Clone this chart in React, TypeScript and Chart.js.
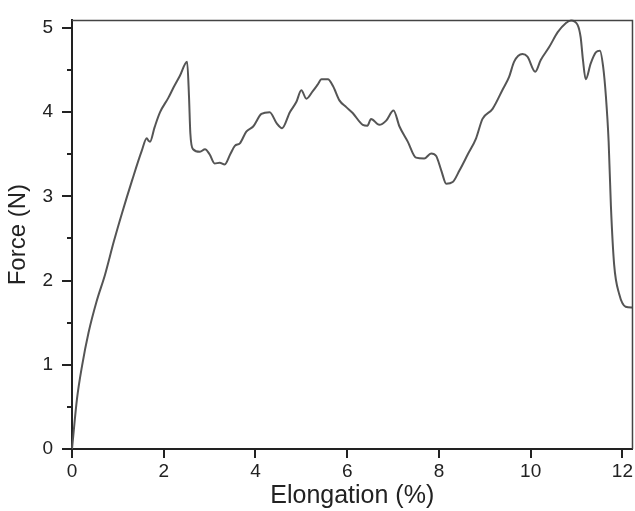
import React, { useEffect, useRef } from 'react';
import { Chart, registerables } from 'chart.js';

Chart.register(...registerables);

const elongation = [
  0, 0.11, 0.22, 0.36, 0.54, 0.72, 0.91, 1.09, 1.31, 1.52, 1.63, 1.67, 1.7, 1.8, 1.92, 2.1, 2.21, 2.35, 2.51,
  2.55, 2.58, 2.64, 2.79, 2.9, 3.0, 3.11, 3.22, 3.33, 3.45, 3.55, 3.66, 3.8, 3.95, 4.13, 4.31, 4.46, 4.58,
  4.75, 4.89, 5.0, 5.11, 5.25, 5.36, 5.44, 5.58, 5.69, 5.83, 5.98, 6.12, 6.34, 6.44, 6.52, 6.7, 6.85, 7.01,
  7.14, 7.32, 7.5, 7.68, 7.83, 7.94, 8.05, 8.16, 8.3, 8.45, 8.63, 8.81, 8.95, 9.17, 9.39, 9.53, 9.64, 9.82,
  9.93, 10.1, 10.22, 10.4, 10.59, 10.77, 10.88, 11.02, 11.09, 11.14, 11.2, 11.31, 11.42, 11.51, 11.58, 11.64,
  11.7, 11.75, 11.82, 11.93, 12.07, 12.22,
];
const force = [
  0, 0.6, 0.99, 1.38, 1.76, 2.07, 2.46, 2.8, 3.19, 3.54, 3.69, 3.66, 3.65, 3.82, 4.0, 4.17, 4.29, 4.43, 4.6,
  4.2, 3.75, 3.56, 3.53, 3.56, 3.5, 3.39, 3.4, 3.38, 3.5, 3.6, 3.63, 3.77, 3.83, 3.98, 4.0, 3.87, 3.81,
  4.0, 4.12, 4.26, 4.16, 4.25, 4.33, 4.39, 4.39, 4.31, 4.14, 4.06, 3.99, 3.85, 3.84, 3.92, 3.85, 3.9, 4.02,
  3.83, 3.65, 3.46, 3.45, 3.51, 3.48, 3.31, 3.15, 3.17, 3.31, 3.5, 3.69, 3.92, 4.04, 4.27, 4.42, 4.6, 4.69,
  4.66, 4.48, 4.62, 4.77, 4.95, 5.06, 5.09, 5.04, 4.89, 4.62, 4.39, 4.58, 4.71, 4.73, 4.54, 4.19,
  3.65, 2.88, 2.19, 1.84, 1.69, 1.68,
];

const xTicks = [0, 2, 4, 6, 8, 10, 12];
const yMajorTicks = [0, 1, 2, 3, 4, 5];
const yMinorTicks = [0.5, 1.5, 2.5, 3.5, 4.5];
const xTitle = 'Elongation (%)';
const yTitle = 'Force (N)';
const xMax = 12.22;
const yMax = 5.09;

const FONT = "'Liberation Sans', Arial, sans-serif";

export default function App() {
  const ref = useRef<HTMLCanvasElement>(null);

  useEffect(() => {
    if (!ref.current) return;
    const axisPlugin = {
      id: 'axisTicks',
      afterDraw(chart: any) {
        const { ctx, chartArea: a, scales } = chart;
        const xs = scales.x;
        const ys = scales.y;
        ctx.save();
        ctx.strokeStyle = '#444';
        ctx.lineWidth = 1.5;
        ctx.beginPath();
        ctx.moveTo(a.left, a.top);
        ctx.lineTo(a.right, a.top);
        ctx.lineTo(a.right, a.bottom);
        ctx.stroke();
        ctx.strokeStyle = '#222';
        ctx.lineWidth = 2;
        ctx.beginPath();
        for (const v of yMajorTicks) {
          const py = Math.round(ys.getPixelForValue(v));
          ctx.moveTo(a.left - 10, py);
          ctx.lineTo(a.left, py);
        }
        for (const v of yMinorTicks) {
          const py = Math.round(ys.getPixelForValue(v));
          ctx.moveTo(a.left - 5, py);
          ctx.lineTo(a.left, py);
        }
        for (const v of xTicks) {
          const px = Math.round(xs.getPixelForValue(v));
          ctx.moveTo(px, a.bottom);
          ctx.lineTo(px, a.bottom + 9);
        }
        ctx.stroke();
        ctx.restore();
      },
    };

    const chart = new Chart(ref.current, {
      type: 'line',
      data: {
        datasets: [
          {
            data: elongation.map((v, i) => ({ x: v, y: force[i] })),
            borderColor: '#555',
            borderWidth: 2,
            pointRadius: 0,
            cubicInterpolationMode: 'monotone',
            fill: false,
            clip: false,
          } as any,
        ],
      },
      options: {
        animation: false,
        responsive: false,
        devicePixelRatio: 1,
        layout: { padding: { top: 9, right: 2, left: 0, bottom: 0 } },
        plugins: { legend: { display: false }, tooltip: { enabled: false } },
        scales: {
          x: {
            type: 'linear',
            min: 0,
            max: xMax,
            afterFit(s: any) {
              s.height = 62;
            },
            afterBuildTicks(s: any) {
              s.ticks = xTicks.map((v) => ({ value: v }));
            },
            ticks: {
              autoSkip: false,
              maxRotation: 0,
              includeBounds: false,
              padding: 2,
              color: '#222',
              font: { family: FONT, size: 19 },
              callback: (v: any) => String(v),
            },
            grid: { drawOnChartArea: false, drawTicks: true, tickLength: 9, color: 'transparent' },
            border: { display: true, color: '#222', width: 2 },
            title: {
              display: true,
              text: xTitle,
              color: '#222',
              font: { family: FONT, size: 25 },
              padding: { top: 0, bottom: 0 },
            },
          },
          y: {
            type: 'linear',
            min: 0,
            max: yMax,
            afterFit(s: any) {
              s.width = 72;
            },
            afterBuildTicks(s: any) {
              s.ticks = yMajorTicks.map((v) => ({ value: v }));
            },
            ticks: {
              autoSkip: false,
              includeBounds: false,
              padding: 9,
              color: '#222',
              font: { family: FONT, size: 19 },
              callback: (v: any) => String(v),
            },
            grid: { drawOnChartArea: false, drawTicks: true, tickLength: 10, color: 'transparent' },
            border: { display: true, color: '#222', width: 2 },
            title: {
              display: true,
              text: yTitle,
              color: '#222',
              font: { family: FONT, size: 24 },
              padding: { top: 4, bottom: 0 },
            },
          },
        },
      },
      plugins: [axisPlugin],
    });
    return () => chart.destroy();
  }, []);

  return (
    <div style={{ position: 'fixed', left: 0, top: 0, width: 635, height: 511, background: '#fff' }}>
      <canvas ref={ref} width={635} height={511} style={{ display: 'block' }} />
    </div>
  );
}
